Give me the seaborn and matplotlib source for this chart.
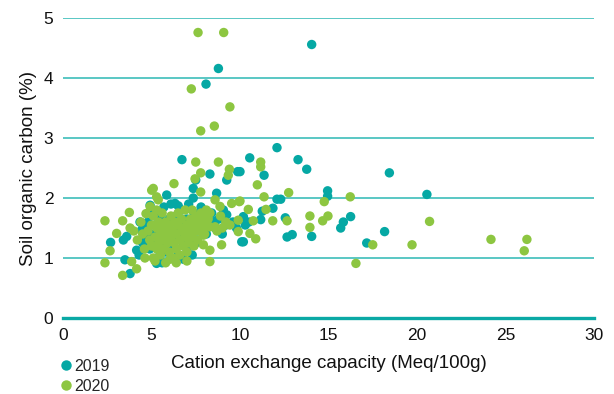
import matplotlib
matplotlib.use("Agg")
import matplotlib.pyplot as plt
import seaborn as sns
import pandas as pd
from matplotlib.lines import Line2D

# 2019 series
x2019 = [8.78, 8.08, 6.72, 10.55, 8.3, 9.87, 7.5, 14.05, 12.09, 11.36, 13.28, 13.77, 10.0,
         14.95, 14.95, 12.09, 12.3, 11.86, 11.26, 11.17, 12.56, 14.05, 12.66, 12.95, 10.19,
         15.69, 15.84, 16.25, 20.56, 18.17, 17.16, 18.44, 9.25, 7.36, 5.86, 8.68, 6.33, 6.51,
         7.36, 9.06, 4.92, 10.19, 9.25, 8.59, 7.18, 7.55, 10.1, 5.29, 4.35, 2.69, 3.41, 3.5,
         3.79, 3.6, 4.16, 4.45, 4.73,
         4.3, 4.5, 4.6, 4.7, 4.8, 4.9, 5.0, 5.0, 5.1, 5.2, 5.3, 5.4, 5.5, 5.5, 5.6, 5.7, 5.8,
         5.9, 6.0, 6.0, 6.1, 6.2, 6.3, 6.4, 6.5, 6.5, 6.6, 6.7, 6.8, 6.9, 7.0, 7.0, 7.1, 7.2,
         7.3, 7.4, 7.5, 7.6, 7.7, 7.8, 7.9, 8.0, 8.1, 8.2, 8.4, 8.6, 8.8, 9.0, 9.2, 9.6, 9.8,
         10.3, 10.5, 6.8, 5.6, 7.3]
y2019 = [4.16, 3.9, 2.64, 2.67, 2.4, 2.44, 2.3, 4.56, 2.84, 2.38, 2.64, 2.48, 2.44,
         2.12, 2.03, 1.98, 1.98, 1.83, 1.78, 1.64, 1.67, 1.36, 1.35, 1.39, 1.27,
         1.5, 1.6, 1.69, 2.06, 1.44, 1.25, 2.42, 2.3, 2.16, 2.05, 2.08, 1.91, 1.87,
         2.0, 1.8, 1.88, 1.69, 1.72, 1.61, 1.58, 1.47, 1.27, 0.91, 1.6, 1.26, 1.3, 0.97,
         0.74, 1.36, 1.13, 1.47, 1.19,
         1.05, 1.25, 1.5, 1.35, 1.6, 1.15, 1.4, 1.75, 1.3, 1.55, 1.0, 1.45, 1.2, 1.7, 1.35, 1.85, 1.1,
         1.5, 1.3, 1.65, 1.9, 1.2, 1.45, 1.7, 1.05, 1.35, 1.55, 1.8, 1.25, 1.45, 1.65, 1.15, 1.9, 1.35,
         1.55, 1.75, 1.25, 1.45, 1.65, 1.85, 1.55, 1.7, 1.4, 1.6, 1.75, 1.5, 1.65, 1.4, 1.55, 1.6, 1.5,
         1.55, 1.6, 0.98, 0.92, 1.05]

# 2020 series
x2020 = [7.63, 9.08, 7.25, 9.43, 8.55, 7.78, 7.5, 8.78, 7.78, 9.4, 11.17, 11.17, 10.98, 12.75,
         14.76, 16.23, 11.36, 10.0, 10.47, 11.47, 10.75, 11.85, 12.66, 13.95, 13.95, 10.56,
         10.89, 14.67, 14.97, 16.55, 20.71, 17.5, 19.72, 24.18, 26.21, 26.06, 9.34, 7.46, 6.27,
         7.78, 5.1, 5.38, 8.59, 8.87, 9.53, 9.96, 5.29, 4.92, 8.3, 8.96, 8.3, 7.93, 6.05, 8.3,
         8.59, 9.43, 9.9, 9.9, 7.93, 5.01, 5.29, 3.75, 2.37, 3.37, 3.03, 3.79, 4.69, 2.66, 2.37,
         3.88, 4.16, 3.37, 4.63,
         4.8, 4.9, 5.0, 5.0, 5.1, 5.1, 5.2, 5.2, 5.3, 5.3, 5.4, 5.4, 5.5, 5.5, 5.6, 5.6, 5.7, 5.7,
         5.8, 5.8, 5.9, 5.9, 6.0, 6.0, 6.1, 6.1, 6.2, 6.2, 6.3, 6.3, 6.4, 6.4, 6.5, 6.5, 6.6, 6.6,
         6.7, 6.7, 6.8, 6.8, 6.9, 6.9, 7.0, 7.0, 7.1, 7.1, 7.2, 7.2, 7.3, 7.3, 7.4, 7.4, 7.5, 7.5,
         7.6, 7.6, 7.7, 7.7, 7.8, 7.8, 7.9, 7.9, 8.0, 8.0, 8.1, 8.1, 8.2, 8.3, 7.0, 6.4, 5.8, 4.5,
         4.6, 4.4, 4.2, 4.0, 9.0, 9.2, 8.7, 8.9]
y2020 = [4.76, 4.76, 3.82, 3.52, 3.2, 3.12, 2.6, 2.6, 2.42, 2.48, 2.6, 2.52, 2.22, 2.09,
         1.94, 2.02, 2.02, 1.95, 1.81, 1.81, 1.62, 1.62, 1.62, 1.7, 1.51, 1.41,
         1.32, 1.62, 1.7, 0.91, 1.61, 1.22, 1.22, 1.31, 1.31, 1.12, 2.38, 2.32, 2.24,
         2.1, 2.16, 1.97, 1.97, 1.86, 1.91, 1.94, 1.8, 1.86, 0.94, 1.22, 1.13, 1.22, 0.98, 1.52,
         1.52, 1.55, 1.44, 1.63, 1.38, 2.13, 2.02, 1.76, 1.62, 1.62, 1.41, 1.5, 1.74, 1.12, 0.92,
         0.94, 0.82, 0.71, 1.0,
         1.45, 1.3, 1.2, 1.55, 1.0, 1.7, 1.35, 0.95, 1.5, 1.15, 1.25, 1.6, 1.4, 1.05, 1.3, 1.75, 1.5, 1.15,
         1.35, 1.6, 1.25, 1.45, 1.1, 1.55, 1.35, 1.7, 1.45, 1.0, 1.25, 1.6, 1.4, 1.15, 1.55, 1.75, 1.3, 1.05,
         1.45, 1.65, 1.2, 1.5, 1.35, 1.8, 1.1, 1.55, 1.4, 1.25, 1.65, 1.5, 1.35, 1.8, 1.2, 1.6, 1.45, 1.7,
         1.3, 1.55, 1.65, 1.45, 1.75, 1.6, 1.5, 1.7, 1.6, 1.4, 1.8, 1.55, 1.65, 1.75, 0.95, 0.92, 0.92, 1.4,
         1.15, 1.6, 1.3, 1.45, 1.5, 1.6, 1.45, 1.7]

years = ["2019", "2020"]
TEAL = "#05a8a4"
GREEN = "#8dc641"
TEXT = "#111111"

df = pd.concat([
    pd.DataFrame({"cec": x2019, "soc": y2019, "year": years[0]}),
    pd.DataFrame({"cec": x2020, "soc": y2020, "year": years[1]}),
], ignore_index=True)

sns.set_style("white")
plt.rcParams["font.family"] = ["Liberation Sans", "DejaVu Sans"]

fig = plt.figure(figsize=(6.14, 3.94), dpi=100)
ax = fig.add_axes([0.1026, 0.193, 0.8648, 0.761])

sns.scatterplot(data=df, x="cec", y="soc", hue="year", hue_order=years,
                palette={"2019": TEAL, "2020": GREEN}, s=46, linewidth=0,
                alpha=1, ax=ax, legend=False, clip_on=False, zorder=3)

ax.set_xlim(0, 30)
ax.set_ylim(0, 5)
ax.set_xticks(range(0, 31, 5))
ax.set_yticks(range(0, 6))
for yv in range(1, 6):
    ax.axhline(yv, color="#3dbdba", lw=1.2, zorder=1)
for s in ["left", "right", "top"]:
    ax.spines[s].set_visible(False)
ax.spines["bottom"].set_color("#0aa9a5")
ax.spines["bottom"].set_linewidth(2.4)
ax.spines["bottom"].set_zorder(4)
ax.tick_params(axis="both", length=0, labelsize=12.5, colors=TEXT, pad=7)
ax.tick_params(axis="x", pad=7)
ax.set_xlabel("Cation exchange capacity (Meq/100g)", fontsize=13.5, color=TEXT, labelpad=9)
ax.set_ylabel("Soil organic carbon (%)", fontsize=13.5, color=TEXT, labelpad=5)

handles = [Line2D([], [], marker="o", linestyle="", markersize=7.5, markerfacecolor=c,
                  markeredgewidth=0) for c in (TEAL, GREEN)]
fig.legend(handles, years, loc="center left", bbox_to_anchor=(0.094, 0.045),
           frameon=False, fontsize=11.5, handletextpad=0.05, labelspacing=0.32,
           borderpad=0, handlelength=1.0, borderaxespad=0)

fig.savefig("out.png", dpi=100)
